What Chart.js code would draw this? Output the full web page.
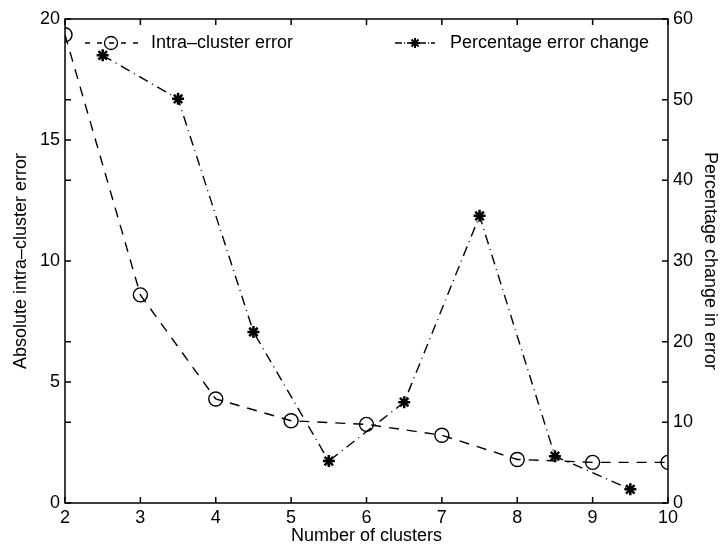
<!DOCTYPE html>
<html lang="en">
<head>
    <meta charset="UTF-8">
    <title>Number of clusters</title>
    <script src="https://cdn.jsdelivr.net/npm/chart.js"></script>
    <style>
        body {
            margin: 0;
            background: #fff;
        }
        #wrap {
            width: 721px;
            height: 550px;
        }
    </style>
</head>
<body>
    <div id="wrap"><canvas id="clusterChart"></canvas></div>

    <script>
        // number of clusters and absolute intra-cluster error
        const clusters = [2, 3, 4, 5, 6, 7, 8, 9, 10];
        const intraError = [19.35, 8.6, 4.3, 3.4, 3.25, 2.8, 1.8, 1.68, 1.68];

        // percentage change, plotted between cluster counts
        const midpoints = [2.5, 3.5, 4.5, 5.5, 6.5, 7.5, 8.5, 9.5];
        const pctChange = [55.5, 50.1, 21.2, 5.2, 12.5, 35.6, 5.8, 1.7];

        const xTicks = [2, 3, 4, 5, 6, 7, 8, 9, 10];
        const leftTicks = [0, 5, 10, 15, 20];
        const rightTicks = [0, 10, 20, 30, 40, 50, 60];

        const FONT = '"Liberation Sans", Arial, Helvetica, sans-serif';

        function drawStar(ctx, x, y, r) {
            ctx.beginPath();
            for (let i = 0; i < 4; i++) {
                const a = i * Math.PI / 4;
                ctx.moveTo(x - r * Math.cos(a), y - r * Math.sin(a));
                ctx.lineTo(x + r * Math.cos(a), y + r * Math.sin(a));
            }
            ctx.stroke();
        }

        // matlab style box, inward ticks and legend inside the axes
        const frame = {
            id: 'frame',
            afterDraw(chart) {
                const ctx = chart.ctx;
                const a = chart.chartArea;
                const sx = chart.scales.x, sy = chart.scales.y, sy1 = chart.scales.y1;
                ctx.save();
                ctx.strokeStyle = '#000';
                ctx.lineWidth = 1.5;
                ctx.setLineDash([]);
                ctx.strokeRect(a.left, a.top, a.right - a.left, a.bottom - a.top);

                const t = 6;
                ctx.beginPath();
                xTicks.forEach(v => {
                    const px = sx.getPixelForValue(v);
                    ctx.moveTo(px, a.bottom); ctx.lineTo(px, a.bottom - t);
                    ctx.moveTo(px, a.top); ctx.lineTo(px, a.top + t);
                });
                leftTicks.forEach(v => {
                    const py = sy.getPixelForValue(v);
                    ctx.moveTo(a.left, py); ctx.lineTo(a.left + t, py);
                    ctx.moveTo(a.right, py); ctx.lineTo(a.right - t, py);
                });
                rightTicks.forEach(v => {
                    const py = sy1.getPixelForValue(v);
                    ctx.moveTo(a.right, py); ctx.lineTo(a.right - t, py);
                    ctx.moveTo(a.left, py); ctx.lineTo(a.left + t, py);
                });
                ctx.stroke();

                // legend
                const ly = a.top + 24;
                ctx.font = '18px ' + FONT;
                ctx.fillStyle = '#000';
                ctx.textBaseline = 'middle';
                ctx.lineWidth = 1.3;

                const d0 = chart.data.datasets[0], d1 = chart.data.datasets[1];
                let lx = a.left + 20;
                ctx.setLineDash([5, 7]);
                ctx.beginPath(); ctx.moveTo(lx, ly); ctx.lineTo(lx + 55, ly); ctx.stroke();
                ctx.setLineDash([]);
                ctx.beginPath(); ctx.arc(lx + 26, ly, 6.5, 0, Math.PI * 2); ctx.stroke();
                ctx.fillText(d0.label, lx + 66, ly);

                lx = a.left + 330;
                ctx.setLineDash([7, 2, 1, 2]);
                ctx.beginPath(); ctx.moveTo(lx, ly); ctx.lineTo(lx + 40, ly); ctx.stroke();
                ctx.setLineDash([]);
                ctx.lineWidth = 2;
                drawStar(ctx, lx + 20, ly, 5);
                ctx.fillText(d1.label, lx + 55, ly);
                ctx.restore();
            }
        };

        const ctx = document.getElementById('clusterChart').getContext('2d');
        new Chart(ctx, {
            type: 'line',
            data: {
                datasets: [{
                    label: 'Intra\u2013cluster error',
                    data: clusters.map((c, i) => ({ x: c, y: intraError[i] })),
                    yAxisID: 'y',
                    borderColor: '#000',
                    borderWidth: 1.4,
                    borderDash: [10, 8],
                    pointStyle: 'circle',
                    pointRadius: 7,
                    pointBackgroundColor: 'rgba(255,255,255,0)',
                    pointBorderColor: '#000',
                    pointBorderWidth: 1.4,
                    fill: false,
                    tension: 0
                }, {
                    label: 'Percentage error change',
                    data: midpoints.map((m, i) => ({ x: m, y: pctChange[i] })),
                    yAxisID: 'y1',
                    borderColor: '#000',
                    borderWidth: 1.4,
                    borderDash: [10, 5, 1, 5],
                    pointStyle: 'star',
                    pointRadius: 6,
                    pointBorderColor: '#000',
                    pointBorderWidth: 2.5,
                    fill: false,
                    tension: 0
                }]
            },
            options: {
                responsive: true,
                maintainAspectRatio: false,
                animation: false,
                layout: { padding: { top: 19 } },
                plugins: {
                    legend: { display: false },
                    tooltip: { enabled: false }
                },
                scales: {
                    x: {
                        type: 'linear',
                        min: 2,
                        max: 10,
                        afterFit: s => { s.height = 47; },
                        afterBuildTicks: s => { s.ticks = xTicks.map(v => ({ value: v })); },
                        grid: { display: false, drawTicks: false },
                        border: { display: false },
                        ticks: { color: '#000', font: { family: FONT, size: 18 }, padding: 4, maxRotation: 0 },
                        title: {
                            display: true, text: 'Number of clusters', color: '#000',
                            font: { family: FONT, size: 18 }, padding: { top: 0, bottom: 3 }
                        }
                    },
                    y: {
                        position: 'left',
                        min: 0,
                        max: 20,
                        afterFit: s => { s.width = 65; },
                        afterBuildTicks: s => { s.ticks = leftTicks.map(v => ({ value: v })); },
                        grid: { display: false, drawTicks: false },
                        border: { display: false },
                        ticks: { color: '#000', font: { family: FONT, size: 18 }, padding: 5 },
                        title: {
                            display: true, text: 'Absolute intra\u2013cluster error', color: '#000',
                            font: { family: FONT, size: 18 }, padding: { top: 10, bottom: 0 }
                        }
                    },
                    y1: {
                        position: 'right',
                        min: 0,
                        max: 60,
                        afterFit: s => { s.width = 53; },
                        afterBuildTicks: s => { s.ticks = rightTicks.map(v => ({ value: v })); },
                        grid: { display: false, drawTicks: false },
                        border: { display: false },
                        ticks: { color: '#000', font: { family: FONT, size: 18 }, padding: 5 },
                        title: {
                            display: true, text: 'Percentage change in error', color: '#000',
                            font: { family: FONT, size: 18 }, padding: { top: 0, bottom: 2 }
                        }
                    }
                }
            },
            plugins: [frame]
        });
    </script>
</body>
</html>
